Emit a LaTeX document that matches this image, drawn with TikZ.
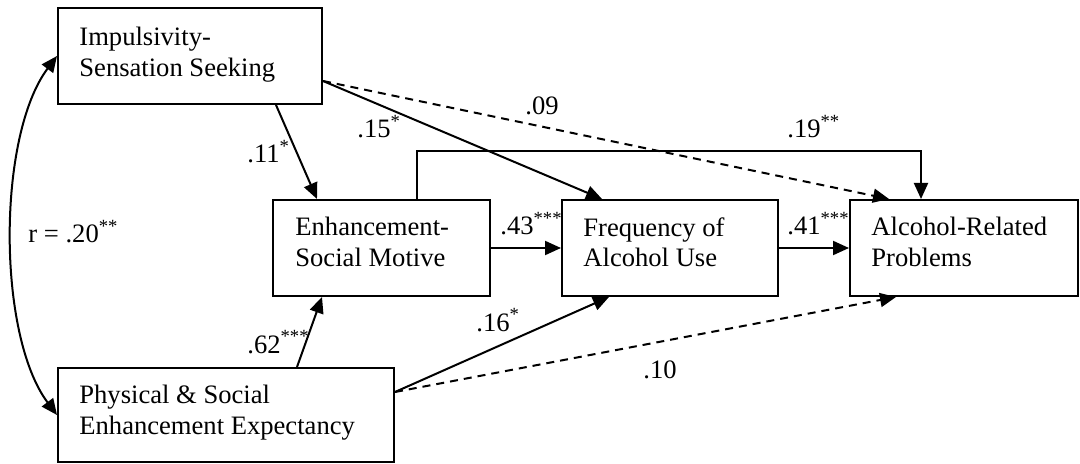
\documentclass[tikz,border=0pt]{standalone}
\usepackage{fontspec}
\setmainfont{Liberation Serif}
\usetikzlibrary{arrows.meta,calc,fit}

\tikzset{
  var/.style={draw, line width=1pt, inner sep=0pt},
  vtext/.style={anchor=north west, inner sep=0pt, align=left},
  coef/.style={anchor=base west, inner sep=0pt},
  eff/.style={line width=1pt, -{Triangle[length=8pt,width=7pt]}},
  ns/.style={eff, dash pattern=on 4pt off 3pt},
}

\begin{document}
\begin{tikzpicture}[x=0.5pt, y=-0.5pt,
    every node/.style={font=\fontsize{13.3pt}{15.25pt}\selectfont}]
  \useasboundingbox (0,0) rectangle (1080,464);

  % measured variables
  \node[var, fit={(58,8) (322,104)}] (imp) {};
  \node[var, fit={(273,200) (490,296)}] (enh) {};
  \node[var, fit={(562,200) (778,296)}] (freq) {};
  \node[var, fit={(850,200) (1078,296)}] (alc) {};
  \node[var, fit={(58,368) (394,462)}] (phys) {};

  \node[vtext] (imp-t) at (79,27) {Impulsivity-\\Sensation Seeking};
  \node[vtext] (enh-t) at (295,217) {Enhancement-\\Social Motive};
  \node[vtext] (freq-t) at (583,217) {Frequency of\\Alcohol Use};
  \node[vtext] (alc-t) at (871,217) {Alcohol-Related\\Problems};
  \node[vtext] (phys-t) at (79,385) {Physical \& Social\\Enhancement Expectancy};

  % paths
  \draw[eff] ([xshift=-23.5pt]imp.south east) -- ([xshift=22.5pt]enh.north west);
  \draw[eff] ([yshift=12pt]imp.south east) -- ([xshift=20.5pt]freq.north west);
  \draw[ns] ([yshift=12pt]imp.south east) -- ([xshift=20pt]alc.north west);
  \draw[eff] ([xshift=72.5pt]enh.north west) -- ++(0,-48) -| ([xshift=36pt]alc.north west);
  \draw[eff] (enh.east) -- (freq.west);
  \draw[eff] (freq.east) -- (alc.west);
  \draw[eff] ([xshift=120pt]phys.north west) -- ([xshift=25pt]enh.south west);
  \draw[eff] ([yshift=-12.5pt]phys.north east) -- ([xshift=24pt]freq.south west);
  \draw[ns] ([yshift=-12.5pt]phys.north east) -- ([xshift=23.5pt]alc.south west);
  \draw[line width=1pt, {Triangle[length=8pt,width=7pt]}-{Triangle[length=8pt,width=7pt]}]
    (imp.west) .. controls +(-60,80) and +(-60,-80) .. (phys.west);

  % coefficients
  \node[coef] (b11) at (247,163) {.11\textsuperscript{*}};
  \node[coef] (b15) at (357,138) {.15\textsuperscript{*}};
  \node[coef] (b09) at (525,115) {.09};
  \node[coef] (b19) at (787,138) {.19\textsuperscript{**}};
  \node[coef] (b43) at (500,235) {.43\textsuperscript{***}};
  \node[coef] (b41) at (787,235) {.41\textsuperscript{***}};
  \node[coef] (b62) at (247,353) {.62\textsuperscript{***}};
  \node[coef] (b16) at (476,331) {.16\textsuperscript{*}};
  \node[coef] (b10) at (643,379) {.10};
  \node[coef] (r) at (28,243) {r = .20\textsuperscript{**}};
\end{tikzpicture}
\end{document}
